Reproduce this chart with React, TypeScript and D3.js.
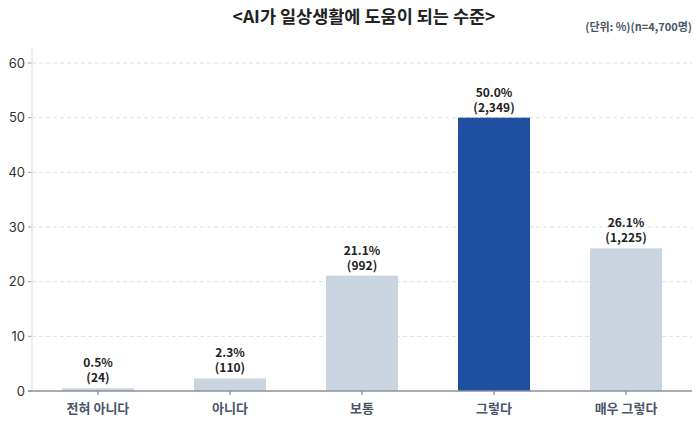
import React from "react";
import * as d3 from "d3";

const categories = ["전혀 아니다", "아니다", "보통", "그렇다", "매우 그렇다"];
const percents = [0.5, 2.3, 21.1, 50.0, 26.1];
const counts = ["24", "110", "992", "2,349", "1,225"];
const yTicks = [0, 10, 20, 30, 40, 50, 60];
const highlight = "그렇다";

const W = 700, H = 424;
const m = { left: 32, right: 8, top: 63, bottom: 33 };

export default function App() {
  const x = d3.scaleBand<string>().domain(categories).range([m.left, W - m.right]).paddingInner(0.4545).paddingOuter(0.227);
  const y = d3.scaleLinear().domain([0, 60]).range([H - m.bottom, m.top]);
  const font = "'Noto Sans CJK KR', 'Noto Sans', sans-serif";
  return (
    <svg width={W} height={H} style={{ position: "absolute", left: 0, top: 0, display: "block" }} fontFamily={font}>
      <text x={364} y={23} textAnchor="middle" fontSize={17.5} fontWeight={700} fill="#222">&lt;AI가 일상생활에 도움이 되는 수준&gt;</text>
      <text x={692} y={31} textAnchor="end" fontSize={11} fontWeight={700} fill="#4a5568">(단위: %)(n=4,700명)</text>
      {yTicks.map(t => (
        <g key={t}>
          {t > 0 && <line x1={m.left} x2={W - m.right} y1={y(t)} y2={y(t)} stroke="#dcdfe4" strokeDasharray="4,3" strokeWidth={1} />}
          <line x1={m.left - 4} x2={m.left} y1={y(t)} y2={y(t)} stroke="#9aa0aa" />
          <text x={m.left - 7} y={y(t)} dy="0.35em" textAnchor="end" fontSize={13} fill="#333" fontFamily="Inter, sans-serif">{t}</text>
        </g>
      ))}
      <line x1={m.left} x2={m.left} y1={48} y2={y(0)} stroke="#e3e6ea" strokeWidth={1.5} />
      {categories.map((c, i) => {
        const bx = x(c)!;
        const top = y(percents[i]);
        const cx = bx + x.bandwidth() / 2;
        return (
          <g key={c}>
            <rect x={bx} y={top} width={x.bandwidth()} height={y(0) - top} fill={c === highlight ? "#1e4fa0" : "#cbd5e0"} />
            <text x={cx} y={top - 21} textAnchor="middle" fontSize={12} fontWeight={700} fill="#222">
              <tspan x={cx}>{percents[i].toFixed(1)}%</tspan>
              <tspan x={cx} dy={15}>({counts[i]})</tspan>
            </text>
            <line x1={cx} x2={cx} y1={y(0)} y2={y(0) + 4} stroke="#6b7280" />
            <text x={cx} y={y(0) + 22} textAnchor="middle" fontSize={13} fontWeight={700} fill="#4a5568">{c}</text>
          </g>
        );
      })}
      <line x1={m.left - 4} x2={W - m.right} y1={y(0)} y2={y(0)} stroke="#8a919c" strokeWidth={1.5} />
    </svg>
  );
}
